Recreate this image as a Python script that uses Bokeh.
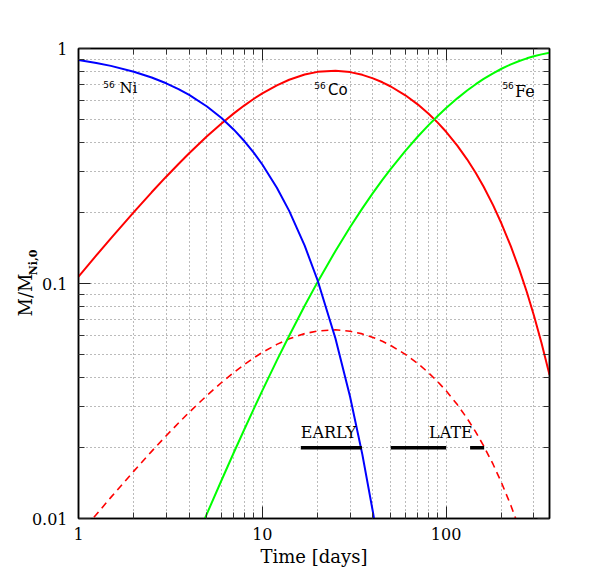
from bokeh.plotting import figure
from bokeh.models import FixedTicker, LogAxis, Label, CustomJSTickFormatter
from bokeh.embed import file_html
from bokeh.resources import INLINE

# ---------------- data ----------------
t_co = [1, 1.25, 1.5, 2, 2.5, 3, 3.5, 4, 5, 6, 7, 8, 9, 10, 12, 14, 17, 20, 25, 30,
        35, 40, 45, 50, 60, 70, 80, 90, 100, 115, 130, 145, 160, 180, 200, 225,
        250, 275, 300, 330, 365]
co56 = [0.1069, 0.1317, 0.1556, 0.2014, 0.2444, 0.2848, 0.3227, 0.3583, 0.4230,
        0.4798, 0.5295, 0.5731, 0.6110, 0.6440, 0.6972, 0.7363, 0.7747, 0.7954,
        0.8040, 0.7934, 0.7725, 0.7465, 0.7182, 0.6892, 0.6322, 0.5786, 0.5291,
        0.4837, 0.4422, 0.3864, 0.3377, 0.2951, 0.2579, 0.2155, 0.1800, 0.1438,
        0.1149, 0.09178, 0.07331, 0.05599, 0.04088]

t_ni = [1, 1.25, 1.5, 2, 2.5, 3, 3.5, 4, 5, 6, 7, 8, 9, 10, 12, 14, 17, 20, 25,
        30, 35, 40, 45]
ni56 = [0.8926, 0.8676, 0.8433, 0.7967, 0.7527, 0.7111, 0.6719, 0.6348, 0.5666,
        0.5057, 0.4514, 0.4029, 0.3596, 0.3210, 0.2557, 0.2037, 0.1449, 0.1030,
        0.05837, 0.03307, 0.01874, 0.01062, 0.006014]

t_fe = [4, 5, 6, 7, 8, 9, 10, 12, 14, 17, 20, 25, 30, 35, 40, 45, 50, 60, 70, 80,
        90, 100, 115, 130, 145, 160, 180, 200, 225, 250, 275, 300, 330, 365]
fe56 = [0.00697, 0.01049, 0.01455, 0.01909, 0.02404, 0.02936, 0.03501, 0.04708,
        0.05997, 0.08039, 0.1016, 0.1376, 0.1735, 0.2087, 0.2429, 0.2758, 0.3074,
        0.3667, 0.4211, 0.4708, 0.5163, 0.5579, 0.6136, 0.6623, 0.7049, 0.7421,
        0.7845, 0.8200, 0.8562, 0.8851, 0.9082, 0.9267, 0.9440, 0.9591]

t_dash = [1, 1.25, 1.5, 2, 2.5, 3, 3.5, 4, 5, 6, 7, 8, 9, 10, 12, 14, 17, 20, 25,
          30, 35, 40, 45, 50, 60, 70, 80, 90, 100, 115, 130, 145, 160, 180, 200,
          225, 250, 275]
co_dashed = [0.00845, 0.01040, 0.01230, 0.01591, 0.01931, 0.02250, 0.02549,
             0.02830, 0.03341, 0.03790, 0.04183, 0.04527, 0.04827, 0.05088,
             0.05508, 0.05817, 0.06120, 0.06284, 0.06352, 0.06268, 0.06103,
             0.05897, 0.05674, 0.05445, 0.04994, 0.04571, 0.04180, 0.03821,
             0.03493, 0.03053, 0.02668, 0.02331, 0.02037, 0.01702, 0.01422,
             0.01136, 0.00908, 0.00725]

bar_start = [16.2, 50, 135]
bar_end = [34.8, 100, 161]
bar_level = [0.02, 0.02, 0.02]

x_major = [1, 10, 100]
x_minor = [2, 3, 4, 5, 6, 7, 8, 9, 20, 30, 40, 50, 60, 70, 80, 90, 200, 300]
y_major = [0.01, 0.1, 1]
y_minor = [0.02, 0.03, 0.04, 0.05, 0.06, 0.07, 0.08, 0.09,
           0.2, 0.3, 0.4, 0.5, 0.6, 0.7, 0.8, 0.9]

SERIF = "DejaVu Serif"
SANS = "DejaVu Sans"
NB = "\u00a0"

p = figure(width=598, height=581, x_axis_type="log", y_axis_type="log",
           x_range=(1, 365), y_range=(0.01, 1),
           output_backend="svg", toolbar_location=None,
           min_border_left=78, min_border_right=49,
           min_border_top=48, min_border_bottom=63)
p.background_fill_color = "white"
p.border_fill_color = "white"
p.outline_line_color = "black"
p.outline_line_width = 1.5

xaxis_b = p.xaxis[0]
yaxis_l = p.yaxis[0]

xt = FixedTicker(ticks=x_major, minor_ticks=x_minor)
yt = FixedTicker(ticks=y_major, minor_ticks=y_minor)
xaxis_b.ticker = xt
yaxis_l.ticker = yt
p.xgrid.ticker = xt
p.ygrid.ticker = yt
plain = CustomJSTickFormatter(code="return tick.toString();")
xaxis_b.formatter = plain
yaxis_l.formatter = plain

blank = CustomJSTickFormatter(code="return '';")
top = LogAxis(ticker=xt, formatter=blank)
right = LogAxis(ticker=yt, formatter=blank)
p.add_layout(top, "above")
p.add_layout(right, "right")

for ax in [xaxis_b, yaxis_l, top, right]:
    ax.major_tick_in = 12
    ax.major_tick_out = 0
    ax.minor_tick_in = 6
    ax.minor_tick_out = 0
    ax.axis_line_color = "black"
    ax.axis_line_width = 1.5
    ax.major_tick_line_color = "#222222"
    ax.minor_tick_line_color = "#333333"
    ax.major_tick_line_width = 1
    ax.minor_tick_line_width = 1
    ax.major_label_text_font = SERIF
    ax.major_label_text_color = "black"
    ax.major_label_text_font_size = "16px"

xaxis_b.major_label_standoff = 9
yaxis_l.major_label_standoff = 11
xaxis_b.axis_label = "Time [days]"
xaxis_b.axis_label_text_font = SERIF
xaxis_b.axis_label_text_font_size = "18px"
xaxis_b.axis_label_text_font_style = "normal"
xaxis_b.axis_label_text_color = "black"
xaxis_b.axis_label_standoff = 3

# y title: subscript on the tick-label axis, "M/M" on an outer bare axis
yaxis_l.axis_label = NB * 11 + "Ni,0"
yaxis_l.axis_label_text_font = SERIF
yaxis_l.axis_label_text_font_size = "11px"
yaxis_l.axis_label_text_font_style = "bold"
yaxis_l.axis_label_text_color = "black"
yaxis_l.axis_label_standoff = -11

ytitle = LogAxis(ticker=FixedTicker(ticks=[]), formatter=blank,
                 axis_line_color=None, major_tick_line_color=None,
                 minor_tick_line_color=None, major_tick_in=0,
                 major_tick_out=0, minor_tick_in=0, minor_tick_out=0,
                 major_label_standoff=0,
                 axis_label="M/M" + NB * 4, axis_label_text_font=SERIF,
                 axis_label_text_font_size="18px",
                 axis_label_text_font_style="normal",
                 axis_label_text_color="black", axis_label_standoff=-12)
p.add_layout(ytitle, "left")

for g in [p.xgrid, p.ygrid]:
    g.grid_line_color = "#777777"
    g.grid_line_dash = "1 3"
    g.grid_line_width = 1
    g.minor_grid_line_color = "#777777"
    g.minor_grid_line_dash = "1 3"
    g.minor_grid_line_width = 1

# curves
p.line(t_dash, co_dashed, line_color="#ff0000", line_width=1.6, line_dash="7 5")
p.line(t_co, co56, line_color="#ff0000", line_width=2)
p.line(t_fe, fe56, line_color="#00ff00", line_width=2)
p.line(t_ni, ni56, line_color="#0000ff", line_width=2)
p.segment(x0=bar_start, y0=bar_level, x1=bar_end, y1=bar_level,
          line_color="black", line_width=3.5)

# isotope labels
def iso(x_sup, x_sym, y_sup, y_sym, sym, font, size):
    p.add_layout(Label(x=x_sup, y=y_sup, text="56", text_font=SANS,
                       text_font_size="9px", text_color="black",
                       text_baseline="alphabetic", text_align="left"))
    p.add_layout(Label(x=x_sym, y=y_sym, text=sym, text_font=font,
                       text_font_size=size, text_color="black",
                       text_baseline="alphabetic", text_align="left"))

iso(1.362, 1.67, 0.702, 0.677, "Ni", SERIF, "15px")
iso(19.17, 22.75, 0.696, 0.666, "Co", SANS, "15px")
iso(202.3, 237.1, 0.699, 0.659, "Fe", SERIF, "16px")

p.add_layout(Label(x=16.2, y=0.0233, text="EARLY", text_font=SERIF,
                   text_font_size="16px", text_baseline="alphabetic",
                   text_align="left", text_color="black"))
p.add_layout(Label(x=80.8, y=0.0233, text="LATE", text_font=SERIF,
                   text_font_size="16px", text_baseline="alphabetic",
                   text_align="left", text_color="black"))

open("out.html", "w").write(file_html(p, INLINE))
